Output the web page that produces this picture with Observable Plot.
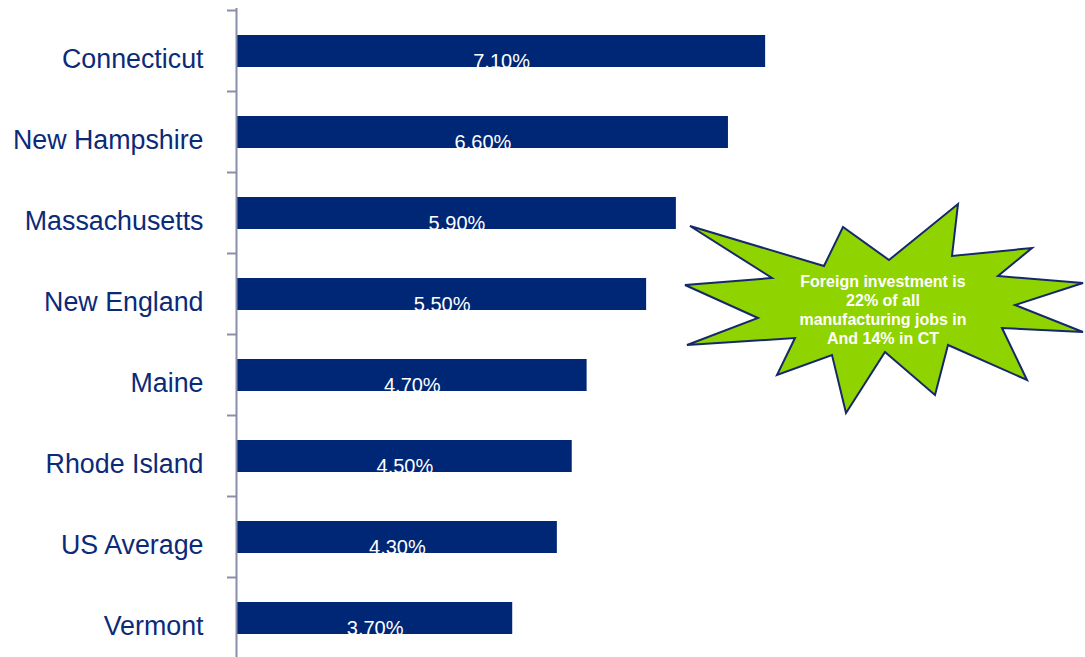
<!DOCTYPE html>
<html>
<head>
<meta charset="utf-8">
<script src="https://cdn.jsdelivr.net/npm/d3@7"></script>
<script src="https://cdn.jsdelivr.net/npm/@observablehq/plot@0.6"></script>
<style>
  html, body { margin: 0; padding: 0; background: #fff; }
  svg { display: block; overflow: visible; }
</style>
</head>
<body>
<div id="chart"></div>
<script>
const states = ["Connecticut", "New Hampshire", "Massachusetts", "New England", "Maine", "Rhode Island", "US Average", "Vermont"];
const values = [7.1, 6.6, 5.9, 5.5, 4.7, 4.5, 4.3, 3.7];
const valueLabels = ["7.10%", "6.60%", "5.90%", "5.50%", "4.70%", "4.50%", "4.30%", "3.70%"];
const calloutLines = ["Foreign investment is", "22% of all", "manufacturing jobs in", "And 14% in CT"];
// star outline (annotation, pixel coordinates)
const starPoints = [[690,226],[824,266],[843,227],[889,260],[958,204],[952,256],[1032,248],[998,276],[1083,283],[1015,305],[1083,332],[1002,328],[1027,380],[948,345],[935,395],[885,352],[846,413],[832,355],[777,375],[795,338],[687,345],[758,318],[685,285],[772,278]];

const data = states.map((s, i) => ({state: s, value: values[i], label: valueLabels[i]}));

const navy = "#002776";
const axisGrey = "#8a8eab";

const plot = Plot.plot({
  width: 1085,
  height: 657,
  marginLeft: 237,
  marginRight: 0,
  marginTop: 8,
  marginBottom: 0,
  x: {domain: [0, 11.4], axis: null},
  y: {domain: states, range: [8.4, 661.2], paddingInner: 0.6, paddingOuter: 0.3, axis: null},
  style: {fontFamily: "'Liberation Sans', Arial, sans-serif", background: "transparent"},
  marks: [
    Plot.barX(data, {x: "value", y: "state", fill: navy}),
    Plot.text(data, {x: d => d.value / 2, y: "state", text: "label", fill: "white", fontSize: 20, dy: 10}),
    Plot.text(data, {y: "state", text: "state", frameAnchor: "left", textAnchor: "end", dx: -34, dy: 8, fontSize: 26.8, fill: "#0b2a78"}),
    Plot.ruleX([0], {stroke: axisGrey, strokeWidth: 2, dx: -1})
  ]
});

const svg = d3.select(plot);
const ys = plot.scale("y");
const half = (ys.step - ys.bandwidth) / 2;
const bounds = states.map(s => ys.apply(s) - half);
bounds.push(bounds[bounds.length - 1] + ys.step);
svg.append("g").selectAll("line").data(bounds).join("line")
  .attr("x1", 227).attr("x2", 236)
  .attr("y1", d => d).attr("y2", d => d)
  .attr("stroke", axisGrey).attr("stroke-width", 2);

const g = svg.append("g");
g.append("polygon")
  .attr("points", starPoints.map(p => p.join(",")).join(" "))
  .attr("fill", "#8fd400")
  .attr("stroke", "#17286a")
  .attr("stroke-width", 2)
  .attr("stroke-linejoin", "miter");
g.append("g").selectAll("text").data(calloutLines).join("text")
  .attr("x", 883)
  .attr("y", (d, i) => 287 + i * 19)
  .attr("text-anchor", "middle")
  .attr("fill", "white")
  .attr("font-weight", "bold")
  .attr("font-size", 16)
  .attr("font-family", "'Liberation Sans', Arial, sans-serif")
  .text(d => d);

document.getElementById("chart").appendChild(plot);
</script>
</body>
</html>
